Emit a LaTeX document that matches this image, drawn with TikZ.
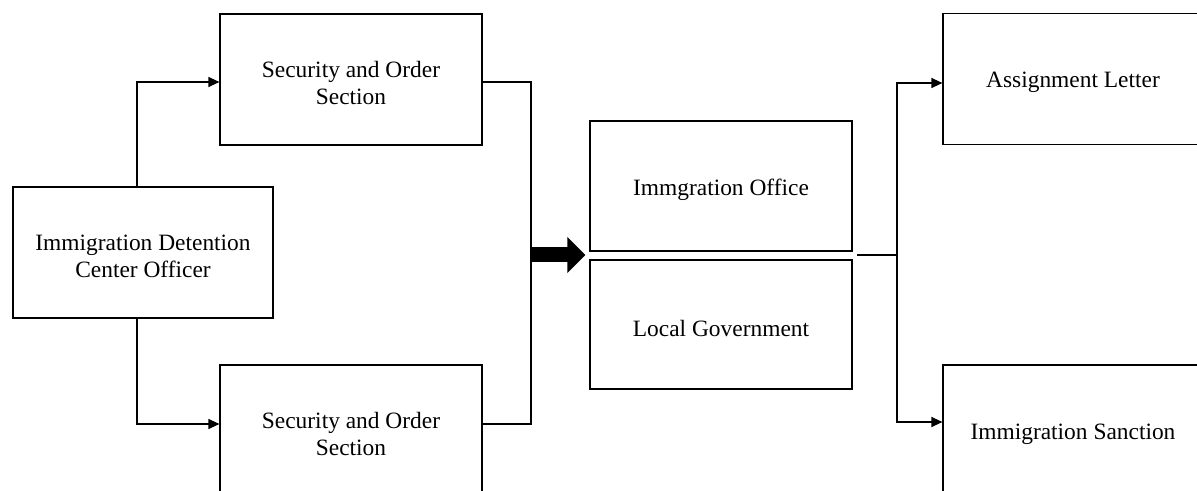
\documentclass[tikz,border=0pt]{standalone}
\usepackage{fontspec}
\setmainfont{Liberation Serif}
\usetikzlibrary{arrows.meta}

\begin{document}
\begin{tikzpicture}[x=1bp, y=-1bp, line width=1.2bp,
        box/.style={draw, rectangle, minimum width=262bp, minimum height=131bp, inner sep=0pt},
        txt/.style={align=center, font=\fontsize{23.5}{27}\selectfont, yshift=-3.5bp},
        arr/.style={-{Triangle[length=11bp,width=10bp]}},
        bigarr/.style={line width=15bp, -{Triangle[length=18bp,width=35bp]}}]
        \useasboundingbox (0,0) rectangle (1197,491);
        \clip (0,0) rectangle (1197,491);

        \node[box, minimum width=260bp, label={[txt]center:Immigration Detention\\Center Officer}] (officer) at (143,252.5) {};
        \node[box, label={[txt]center:Security and Order\\Section}] (sec1) at (351,79.5) {};
        \node[box, label={[txt]center:Security and Order\\Section}] (sec2) at (351,430.5) {};
        \draw[arr] ([xshift=-6bp]officer.north) |- ([yshift=-2.5bp]sec1.west);
        \draw[arr] ([xshift=-6bp]officer.south) |- ([yshift=6.5bp]sec2.west);

        \coordinate (join) at (531,255);
        \draw ([yshift=-2.5bp]sec1.east) -| (join);
        \draw ([yshift=6.5bp]sec2.east) -| (join);

        \node[box, minimum height=130bp, label={[txt]center:Immgration Office}] (office) at (721,186) {};
        \node[box, minimum height=129bp, label={[txt]center:Local Government}] (gov) at (721,324.5) {};
        \draw[bigarr] (join) -- ([xshift=-4bp]office.west |- join);

        \node[box, minimum width=260bp, label={[txt]center:Assignment Letter}] (letter) at (1073,79) {};
        \node[box, minimum width=260bp, label={[txt]center:Immigration Sanction}] (sanction) at (1073,430.5) {};
        \coordinate (out) at (857,255);
        \coordinate (split) at (897,255);
        \draw (out) -- (split);
        \draw[arr] (split) |- ([yshift=-4bp]letter.west);
        \draw[arr] (split) |- ([yshift=8.5bp]sanction.west);
\end{tikzpicture}
\end{document}
